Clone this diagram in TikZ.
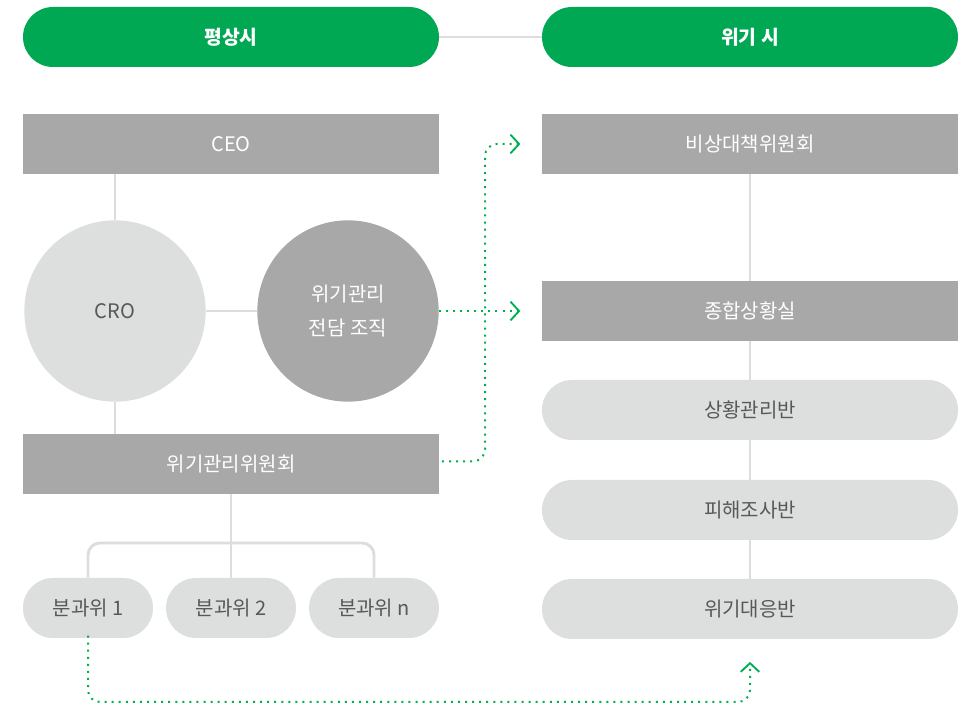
\documentclass[tikz,border=0pt]{standalone}
\usepackage{fontspec}
\setmainfont{Noto Sans CJK KR}
\usetikzlibrary{arrows.meta}

\definecolor{crisisgreen}{RGB}{0,168,84}
\definecolor{dotgreen}{RGB}{0,176,80}
\definecolor{darkbox}{RGB}{167,168,167}
\definecolor{lightbox}{RGB}{221,222,222}
\definecolor{linkgray}{RGB}{221,221,221}
\definecolor{textgray}{RGB}{88,88,88}

\tikzset{
  headpill/.style={fill=crisisgreen, text=white, font=\fontsize{14.5}{17}\selectfont\bfseries, rounded corners=22.5pt, minimum width=312pt, minimum height=45pt, inner sep=0pt},
  darkbar/.style={fill=darkbox, text=white, font=\fontsize{15}{18}\selectfont, minimum width=312pt, minimum height=45pt, inner sep=0pt},
  lightpill/.style={fill=lightbox, text=textgray, font=\fontsize{15}{18}\selectfont, rounded corners=22.5pt, minimum width=312pt, minimum height=45pt, inner sep=0pt},
  subpill/.style={lightpill, minimum width=97.5pt},
  bigdisc/.style={circle, minimum size=136pt, inner sep=0pt, font=\fontsize{15}{25}\selectfont, align=center},
  link/.style={draw=linkgray, line width=2.2pt},
  alert/.style={draw=dotgreen, line width=1.5pt, dash pattern=on 1.5pt off 3.8pt, rounded corners=9pt, shorten >=1pt,
    -{Straight Barb[length=6.5pt, width=14pt, line width=1.4pt, color=dotgreen]}}
}

\begin{document}
\begin{tikzpicture}[x=0.75pt,y=0.75pt,yscale=-1,xscale=1]
\useasboundingbox (0,0) rectangle (972,705);

% Header pills
\node [headpill] (normal) at (231,37) {평상시};
\node [headpill] (crisis) at (750,37) {위기 시};

% Normal-time structure
\node [darkbar] (ceo) at (231,144) {CEO};
\node [bigdisc, fill=lightbox, text=textgray] (cro) at (115,311) {CRO};
\node [bigdisc, fill=darkbox, text=white] (organ) at (348,311) {위기관리\\전담 조직};
\node [darkbar] (committee) at (231,464) {위기관리위원회};
\node [subpill] (sub1) at (88,608) {분과위 1};
\node [subpill] (sub2) at (231,608) {분과위 2};
\node [subpill] (subn) at (374,608) {분과위 n};

% Crisis-time structure
\node [darkbar] (emergency) at (750,144) {비상대책위원회};
\node [darkbar] (situation) at (750,311) {종합상황실};
\node [lightpill] (manage) at (750,410) {상황관리반};
\node [lightpill] (damage) at (750,510) {피해조사반};
\node [lightpill] (response) at (750,609) {위기대응반};

\coordinate (fork) at (231,543);
\coordinate (floor) at (0,702);
\coordinate (riser) at (485,0);

% Gray links
\draw [link] (normal) -- (crisis);
\draw [link] (cro.north) -- (cro.north |- ceo.south);
\draw [link] (cro.south) -- (cro.south |- committee.north);
\draw [link] (cro.east) -- (organ.west);
\draw [link] (committee.south) -- (sub2.north);
\draw [link, rounded corners=9pt] (sub1.north) |- (fork) -| (subn.north);
\draw [link] (emergency.south) -- (situation.north);
\draw [link] (situation.south) -- (manage.north);
\draw [link] (manage.south) -- (damage.north);
\draw [link] (damage.south) -- (response.north);

% Dotted green transitions
\draw [alert, shorten >=16pt] (organ.east) -- (situation.west);
\draw [alert, shorten >=16pt] ([xshift=2pt,yshift=-2pt]committee.east) -| (riser |- emergency.west) -- (emergency.west);
\draw [alert, shorten >=17pt] ([yshift=-2pt]sub1.south) -- (sub1.south |- floor) -| (response.south);

\end{tikzpicture}
\end{document}
